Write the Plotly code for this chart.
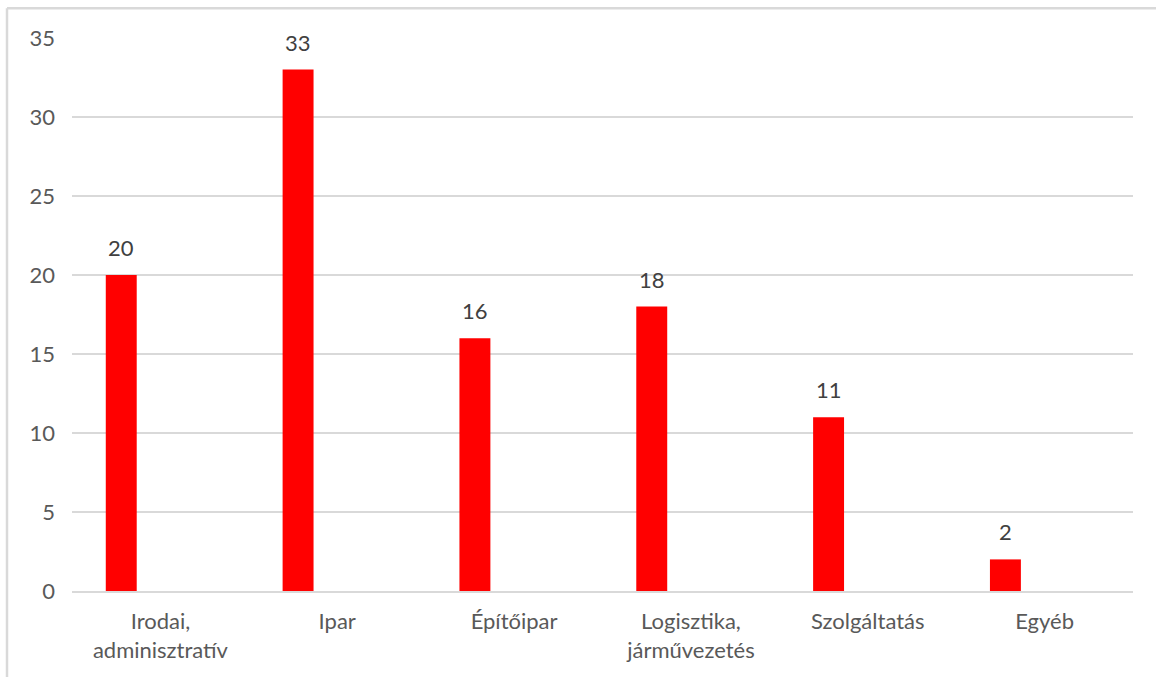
import plotly.graph_objects as go

# Number of responses per sector
categories = ["Irodai,<br>adminisztratív", "Ipar", "Építőipar",
              "Logisztika,<br>járművezetés", "Szolgáltatás", "Egyéb"]
values = [20, 33, 16, 18, 11, 2]
y_ticks = [0, 5, 10, 15, 20, 25, 30, 35]

W, H = 1156, 677
ML, MR, MT, MB = 72, 23, 37.7, 86.3
BAR_W = 0.175
BAR_OFF = -0.309

FONT = "Lato"
FS = 22
AXIS_COLOR = "#595959"
LABEL_COLOR = "#404040"
GRID = "#d9d9d9"

fig = go.Figure(go.Bar(
    x=categories,
    y=values,
    width=BAR_W,
    offset=BAR_OFF,
    marker=dict(color="#ff0000", line=dict(width=0)),
    hoverinfo="x+y",
))

# value labels above each bar
for i, v in enumerate(values):
    fig.add_annotation(
        x=i + BAR_OFF + BAR_W / 2, y=v, xref="x", yref="y",
        text=str(v), showarrow=False, yanchor="bottom", yshift=12,
        font=dict(family=FONT, size=FS, color=LABEL_COLOR),
    )

pw = W - ML - MR
ph = H - MT - MB
# outer frame of the chart area (top and left edges)
fx0 = (7 - ML) / pw
fy1 = 1 + (MT - 8) / ph
fig.add_shape(type="line", xref="paper", yref="paper",
              x0=fx0, x1=1 + MR / pw + 0.01, y0=fy1, y1=fy1,
              line=dict(color=GRID, width=2.5))
fig.add_shape(type="line", xref="paper", yref="paper",
              x0=fx0, x1=fx0, y0=fy1, y1=-MB / ph - 0.01,
              line=dict(color=GRID, width=2.5))

fig.update_layout(
    width=W, height=H,
    margin=dict(l=ML, r=MR, t=MT, b=MB, pad=0),
    paper_bgcolor="white", plot_bgcolor="white",
    showlegend=False,
    font=dict(family=FONT, size=FS, color=AXIS_COLOR),
    xaxis=dict(
        type="category", range=[-0.5, 5.5],
        showgrid=False, showline=True, linecolor=GRID, linewidth=1.5,
        ticks="", ticklabelstandoff=10,
        tickfont=dict(family=FONT, size=FS, color=AXIS_COLOR),
    ),
    yaxis=dict(
        range=[0, 35], tickvals=y_ticks,
        showgrid=True, gridcolor=GRID, gridwidth=1.5,
        zeroline=False, showline=False, ticks="",
        ticklabelstandoff=16,
        tickfont=dict(family=FONT, size=FS, color=AXIS_COLOR),
    ),
)

fig.write_html("out.html")
